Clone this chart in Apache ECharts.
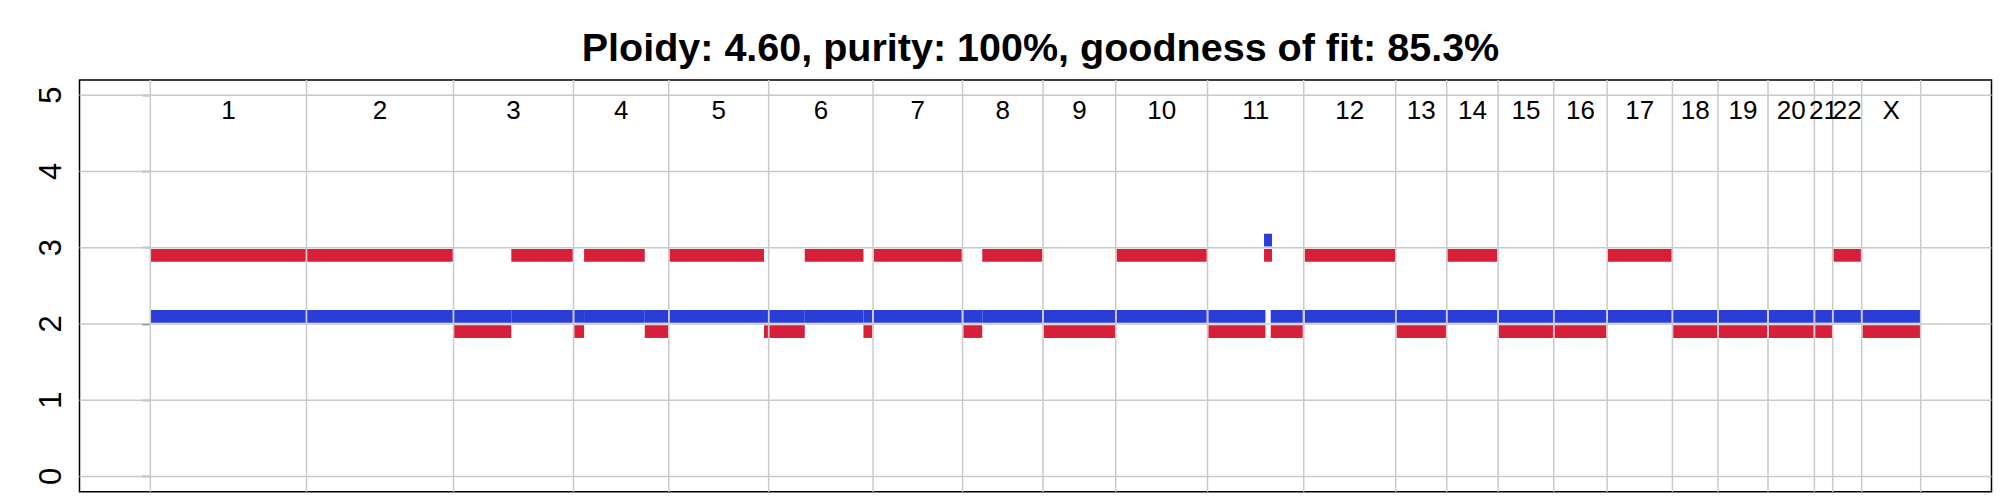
<!DOCTYPE html>
<html><head><meta charset="utf-8">
<script src="https://cdn.jsdelivr.net/npm/echarts@6/dist/echarts.min.js"></script>
<style>html,body{margin:0;padding:0;background:#fff}#c{width:2000px;height:500px}</style>
</head><body><div id="c"></div>
<script>
// ---- data (positions along genome, arbitrary units from chr1 start) ----
const chromNames = ['1','2','3','4','5','6','7','8','9','10','11','12','13','14','15','16','17','18','19','20','21','22','X'];
const chromBounds = [0, 156.2, 303.2, 423.2, 518.5, 618.4, 722.8, 812.3, 892.8, 965.5, 1057.3, 1153.5, 1245.5, 1296.5, 1347.9, 1403.5, 1456.9, 1522.2, 1567.8, 1617.8, 1664.2, 1682.5, 1711.5, 1770.5];
const segStart = [0.5, 156.8, 303.8, 361.0, 424.0, 433.8, 494.5, 519.3, 613.7, 619.0, 654.5, 713.2, 723.5, 813.1, 832.0, 893.5, 966.4, 1058.1, 1113.8, 1120.5, 1154.5, 1246.3, 1297.2, 1348.7, 1404.3, 1457.7, 1523.0, 1568.5, 1618.5, 1665.0, 1683.3, 1712.3];
const segEnd   = [155.5, 302.5, 361.0, 422.5, 433.8, 494.5, 517.8, 613.7, 617.7, 654.5, 713.2, 722.0, 811.5, 832.0, 892.0, 964.8, 1056.5, 1115.2, 1121.8, 1152.5, 1244.8, 1295.7, 1347.1, 1402.8, 1456.2, 1521.5, 1567.1, 1617.0, 1663.5, 1681.8, 1710.7, 1769.8];
const majorCN  = [3, 3, 2, 3, 2, 3, 2, 3, 2, 2, 3, 2, 3, 2, 3, 2, 3, 2, 3, 2, 3, 2, 3, 2, 2, 3, 2, 2, 2, 2, 3, 2];
const minorCN  = [2, 2, 2, 2, 2, 2, 2, 2, 2, 2, 2, 2, 2, 2, 2, 2, 2, 2, 3, 2, 2, 2, 2, 2, 2, 2, 2, 2, 2, 2, 2, 2];
const yTicks = [0, 1, 2, 3, 4, 5];
const titleText = 'Ploidy: 4.60, purity: 100%, goodness of fit: 85.3%';

// ---- layout / style ----
const genomeLen = chromBounds[chromBounds.length - 1];
const xMin = -0.04 * genomeLen, xMax = 1.04 * genomeLen;
const yMin = -0.2, yMax = 5.2;
const SEG_H = 12.7;
const RED = '#d71f3a', BLUE = '#2b3dd7', GRID = '#cacaca';
const FONT = '"Liberation Sans", Arial, Helvetica, sans-serif';

function segRenderer(offset, color) {
  return function (params, api) {
    const p1 = api.coord([api.value(0), api.value(2) + offset]);
    const p2 = api.coord([api.value(1), api.value(2) + offset]);
    return { type: 'rect', shape: { x: p1[0], y: p1[1] - SEG_H / 2, width: p2[0] - p1[0], height: SEG_H },
             style: { fill: color } };
  };
}

const chart = echarts.init(document.getElementById('c'), null, { renderer: 'svg' });
chart.setOption({
  animation: false,
  title: { text: titleText, left: 1035.5, top: 22, textAlign: 'center',
           textStyle: { fontSize: 39.5, fontWeight: 'bold', fontFamily: FONT, color: '#000' } },
  grid: { left: 79.5, right: 8.5, top: 80, bottom: 8.3, show: true, borderColor: '#000', borderWidth: 1.5 },
  xAxis: { type: 'value', min: xMin, max: xMax, axisLine: { show: false }, axisTick: { show: false },
           axisLabel: { show: false }, splitLine: { show: false } },
  yAxis: { type: 'value', min: yMin, max: yMax, axisLine: { show: false }, splitLine: { show: false },
           axisTick: { show: true, length: 8, customValues: yTicks, lineStyle: { color: '#000', width: 1.3 } },
           axisLabel: { customValues: yTicks, rotate: 90, fontSize: 31, color: '#000', margin: 14, fontFamily: FONT } },
  series: [
    { type: 'custom', z: 1, silent: true, data: yTicks.map(v => [v]), encode: { y: 0 },
      renderItem: function (params, api) {
        const v = api.value(0);
        const a = api.coord([xMin, v]), b = api.coord([xMax, v]);
        return { type: 'line', shape: { x1: a[0], y1: a[1], x2: b[0], y2: b[1] }, style: { stroke: GRID, lineWidth: 1.5 } };
      } },
    { type: 'custom', z: 2, silent: true, data: segStart.map((s, i) => [s, segEnd[i], majorCN[i]]),
      encode: { x: [0, 1], y: 2 }, renderItem: segRenderer(-0.1, RED) },
    { type: 'custom', z: 2, silent: true, data: segStart.map((s, i) => [s, segEnd[i], minorCN[i]]),
      encode: { x: [0, 1], y: 2 }, renderItem: segRenderer(0.1, BLUE) },
    { type: 'custom', z: 3, silent: true, data: chromBounds.map(b => [b]), encode: { x: 0 },
      renderItem: function (params, api) {
        const b = api.value(0);
        const a = api.coord([b, yMin]), c = api.coord([b, yMax]);
        return { type: 'line', shape: { x1: a[0], y1: a[1], x2: c[0], y2: c[1] }, style: { stroke: GRID, lineWidth: 1.5 } };
      } },
    { type: 'custom', z: 4, silent: true,
      data: chromNames.map((n, i) => [(chromBounds[i] + chromBounds[i + 1]) / 2, 4.8]),
      encode: { x: 0, y: 1 },
      renderItem: function (params, api) {
        const p = api.coord([api.value(0), api.value(1)]);
        return { type: 'text', x: p[0], y: p[1],
                 style: { text: chromNames[params.dataIndex], fontSize: 26, fontFamily: FONT, fill: '#000',
                          align: 'center', verticalAlign: 'middle' } };
      } }
  ]
});
</script></body></html>
